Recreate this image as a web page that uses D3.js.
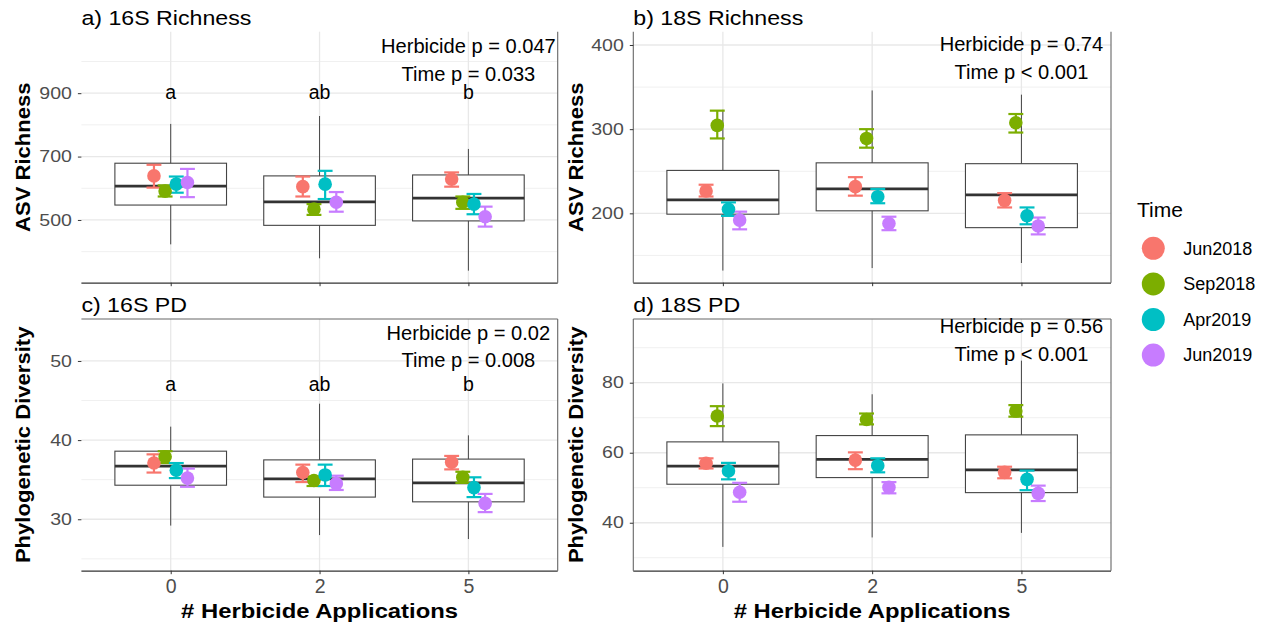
<!DOCTYPE html>
<html>
<head>
<meta charset="utf-8">
<script src="https://cdn.jsdelivr.net/npm/d3@7"></script>
<style>
  body { margin: 0; background: #fff; }
  svg { font-family: "Liberation Sans", Arial, sans-serif; }
</style>
</head>
<body>
<div id="chart"></div>
<script>
// categories
const groups = ["0", "2", "5"];
const times = ["Jun2018", "Sep2018", "Apr2019", "Jun2019"];
const timeColors = ["#F8766D", "#7CAE00", "#00BFC4", "#C77CFF"];

// boxplot stats per group: [min, q1, median, q3, max]
const rich16Box = [[423, 547, 607, 679, 803], [379, 483, 557, 639, 828], [340, 497, 569, 642, 724]];
const rich18Box = [[132, 199, 216, 251, 323], [135, 203, 229, 260, 346], [141, 183, 222, 259, 341]];
const pd16Box = [[29.2, 34.3, 36.7, 38.6, 41.7], [28.0, 32.8, 35.1, 37.5, 44.6], [27.5, 32.2, 34.6, 37.6, 40.6]];
const pd18Box = [[33.1, 51.0, 56.2, 63.1, 79.8], [35.8, 52.9, 58.1, 64.9, 76.7], [37.1, 48.6, 55.1, 65.1, 86.3]];

// means and error bars, one row per time, one value per group
const rich16Mean = [[639, 605, 629], [591, 534, 556], [613, 613, 550], [618, 556, 510]];
const rich16Lo = [[602, 574, 605], [574, 516, 535], [586, 566, 518], [572, 526, 479]];
const rich16Hi = [[674, 637, 650], [609, 550, 574], [637, 655, 582], [661, 588, 542]];

const rich18Mean = [[226.5, 231.7, 215.4], [304.5, 289, 307.7], [204.8, 219.8, 197.2], [192, 188, 185]];
const rich18Lo = [[220, 221, 207], [289, 278, 296], [197, 212, 187], [181, 180, 175]];
const rich18Hi = [[234, 243, 224], [322, 300, 318], [213, 229, 207], [202, 196, 195]];

const pd16Mean = [[37.1, 35.9, 37.2], [37.9, 34.9, 35.3], [36.2, 35.6, 34.0], [35.2, 34.5, 32.0]];
const pd16Lo = [[35.9, 34.7, 36.3], [37.1, 34.2, 34.6], [35.2, 34.2, 32.8], [34.1, 33.7, 30.9]];
const pd16Hi = [[38.2, 36.9, 38.0], [38.6, 35.4, 36.0], [37.1, 36.9, 35.3], [36.4, 35.5, 33.2]];

const pd18Mean = [[57.0, 57.9, 54.4], [70.5, 69.5, 71.9], [54.8, 56.3, 52.4], [48.7, 50.1, 48.4]];
const pd18Lo = [[55.5, 55.3, 52.7], [67.6, 68.1, 70.3], [52.4, 54.4, 49.3], [46.0, 48.4, 46.2]];
const pd18Hi = [[58.4, 60.1, 56.0], [73.3, 71.2, 73.6], [57.1, 58.4, 54.9], [51.4, 51.6, 50.6]];

// axis ticks
const rich16Ticks = [500, 700, 900], rich16Minor = [400, 600, 800, 1000];
const rich18Ticks = [200, 300, 400], rich18Minor = [150, 250, 350];
const pd16Ticks = [30, 40, 50], pd16Minor = [25, 35, 45];
const pd18Ticks = [40, 60, 80], pd18Minor = [30, 50, 70, 90];

// letters and p-value text
const letters = ["a", "ab", "b"];
const rich16P = ["Herbicide p = 0.047", "Time p = 0.033"];
const rich18P = ["Herbicide p = 0.74", "Time p < 0.001"];
const pd16P = ["Herbicide p = 0.02", "Time p = 0.008"];
const pd18P = ["Herbicide p = 0.56", "Time p < 0.001"];

const width = 1268, height = 629;
const svg = d3.select("#chart").append("svg")
    .attr("width", width)
    .attr("height", height);

function stretch(sel, k) {
    sel.each(function() {
        const w = this.getComputedTextLength();
        this.setAttribute("textLength", w * k);
        this.setAttribute("lengthAdjust", "spacingAndGlyphs");
    });
}

const cols = [[81.4, 557.7], [633.3, 1111]];
const rows = [[31.7, 282.7], [319, 570.7]];

const panels = [
    { title: "a) 16S Richness", col: 0, row: 0, box: rich16Box, mean: rich16Mean, lo: rich16Lo, hi: rich16Hi,
      domain: [302, 1094], ticks: rich16Ticks, minor: rich16Minor, ylab: "ASV Richness",
      p: rich16P, pY: [1026, 939], letterY: 882, borders: ["right"] },
    { title: "b) 18S Richness", col: 1, row: 0, box: rich18Box, mean: rich18Mean, lo: rich18Lo, hi: rich18Hi,
      domain: [117.6, 415.8], ticks: rich18Ticks, minor: rich18Minor, ylab: "ASV Richness",
      p: rich18P, pY: [393, 360], letterY: null, borders: ["left", "right"] },
    { title: "c) 16S PD", col: 0, row: 1, box: pd16Box, mean: pd16Mean, lo: pd16Lo, hi: pd16Hi,
      domain: [23.5, 55.3], ticks: pd16Ticks, minor: pd16Minor, ylab: "Phylogenetic Diversity",
      p: pd16P, pY: [52.7, 49.2], letterY: 46.2, borders: ["top", "right"] },
    { title: "d) 18S PD", col: 1, row: 1, box: pd18Box, mean: pd18Mean, lo: pd18Lo, hi: pd18Hi,
      domain: [26.3, 98.2], ticks: pd18Ticks, minor: pd18Minor, ylab: "Phylogenetic Diversity",
      p: pd18P, pY: [94.1, 86.3], letterY: null, borders: ["top", "left", "right"] }
];

panels.forEach(function(pn) {
    const [l, r] = cols[pn.col];
    const [t, b] = rows[pn.row];
    const g = svg.append("g");

    const x = d3.scalePoint().domain(groups).range([l, r]).padding(0.6);
    const y = d3.scaleLinear().domain(pn.domain).range([b, t]);
    const step = x.step();
    const dodge = step * 0.075;

    // grid
    g.selectAll(".minor").data(pn.minor).enter().append("line")
        .attr("x1", l).attr("x2", r)
        .attr("y1", d => y(d)).attr("y2", d => y(d))
        .attr("stroke", "#f0f0f0").attr("stroke-width", 1);
    g.selectAll(".major").data(pn.ticks).enter().append("line")
        .attr("x1", l).attr("x2", r)
        .attr("y1", d => y(d)).attr("y2", d => y(d))
        .attr("stroke", "#e8e8e8").attr("stroke-width", 1.3);
    g.selectAll(".vgrid").data(groups).enter().append("line")
        .attr("x1", d => x(d)).attr("x2", d => x(d))
        .attr("y1", t).attr("y2", b)
        .attr("stroke", "#e8e8e8").attr("stroke-width", 1.3);

    // boxplots
    const bw = step * 0.75;
    const bx = g.selectAll(".box").data(pn.box).enter().append("g");
    bx.append("line")
        .attr("x1", (d, i) => x(groups[i])).attr("x2", (d, i) => x(groups[i]))
        .attr("y1", d => y(d[0])).attr("y2", d => y(d[4]))
        .attr("stroke", "#333").attr("stroke-width", 0.9);
    bx.append("rect")
        .attr("x", (d, i) => x(groups[i]) - bw / 2)
        .attr("width", bw)
        .attr("y", d => y(d[3]))
        .attr("height", d => y(d[1]) - y(d[3]))
        .attr("fill", "#fff").attr("stroke", "#444").attr("stroke-width", 1.1);
    bx.append("line")
        .attr("x1", (d, i) => x(groups[i]) - bw / 2).attr("x2", (d, i) => x(groups[i]) + bw / 2)
        .attr("y1", d => y(d[2])).attr("y2", d => y(d[2]))
        .attr("stroke", "#333").attr("stroke-width", 2.8);

    // error bars and points
    const pts = [];
    times.forEach((tm, k) => groups.forEach((gr, i) => {
        pts.push({ k: k, x: x(gr) + (k - 1.5) * dodge, m: pn.mean[k][i], lo: pn.lo[k][i], hi: pn.hi[k][i] });
    }));
    const cap = step * 0.05;
    const eb = g.selectAll(".eb").data(pts).enter().append("g")
        .attr("stroke", d => timeColors[d.k]).attr("stroke-width", 2.2);
    eb.append("line").attr("x1", d => d.x).attr("x2", d => d.x)
        .attr("y1", d => y(d.lo)).attr("y2", d => y(d.hi));
    eb.append("line").attr("x1", d => d.x - cap).attr("x2", d => d.x + cap)
        .attr("y1", d => y(d.lo)).attr("y2", d => y(d.lo));
    eb.append("line").attr("x1", d => d.x - cap).attr("x2", d => d.x + cap)
        .attr("y1", d => y(d.hi)).attr("y2", d => y(d.hi));
    g.selectAll(".pt").data(pts).enter().append("circle")
        .attr("cx", d => d.x).attr("cy", d => y(d.m)).attr("r", 6.8)
        .attr("fill", d => timeColors[d.k]);

    // borders
    const bcol = "#666";
    if (pn.borders.includes("top")) g.append("line").attr("x1", l).attr("x2", r).attr("y1", t).attr("y2", t).attr("stroke", bcol).attr("stroke-width", 1.1);
    if (pn.borders.includes("left")) g.append("line").attr("x1", l).attr("x2", l).attr("y1", t).attr("y2", b).attr("stroke", bcol).attr("stroke-width", 1.1);
    if (pn.borders.includes("right")) g.append("line").attr("x1", r).attr("x2", r).attr("y1", t).attr("y2", b).attr("stroke", bcol).attr("stroke-width", 1.1);

    // axes
    const yAxis = g.append("g").attr("transform", `translate(${l},0)`)
        .call(d3.axisLeft(y).tickValues(pn.ticks).tickSize(3.5).tickPadding(6));
    yAxis.select(".domain").remove();
    yAxis.selectAll(".tick line").attr("stroke", "#333");
    yAxis.selectAll(".tick text")
        .attr("fill", "#4d4d4d").attr("font-size", "16.3px")
        .attr("font-family", "Liberation Sans, Arial, sans-serif")
        .call(stretch, 1.2);

    const xAxis = g.append("g").attr("transform", `translate(0,${b})`)
        .call(d3.axisBottom(x).tickSize(3.5).tickPadding(5).tickSizeOuter(0));
    xAxis.select(".domain").attr("stroke", "#333").attr("stroke-width", 1.3)
        .attr("d", `M${l},0.5H${r}`);
    xAxis.selectAll(".tick line").attr("stroke", "#333");
    if (pn.row === 1) {
        xAxis.selectAll(".tick text")
            .attr("fill", "#4d4d4d").attr("font-size", "19.5px")
            .attr("font-family", "Liberation Sans, Arial, sans-serif");
        g.append("text")
            .attr("x", (l + r) / 2).attr("y", 618)
            .attr("text-anchor", "middle")
            .attr("font-size", "20px").attr("font-weight", "bold")
            .text("# Herbicide Applications")
            .call(stretch, 1.19);
    } else {
        xAxis.selectAll(".tick text").remove();
    }

    // y title
    const yx = pn.col === 0 ? 29.5 : 582.5;
    g.append("text")
        .attr("transform", `translate(${yx},${(t + b) / 2}) rotate(-90)`)
        .attr("text-anchor", "middle")
        .attr("font-size", "21px").attr("font-weight", "bold")
        .text(pn.ylab)
        .call(stretch, 1.05);

    // panel title
    g.append("text")
        .attr("x", l).attr("y", t - 7)
        .attr("font-size", "20.5px").attr("fill", "#000")
        .text(pn.title)
        .call(stretch, 1.13);

    // p-values
    g.selectAll(".pv").data(pn.p).enter().append("text")
        .attr("x", x("5"))
        .attr("y", (d, i) => y(pn.pY[i]))
        .attr("text-anchor", "middle")
        .attr("font-size", "19.5px")
        .text(d => d)
        .call(stretch, 1.03);

    // letters
    if (pn.letterY !== null) {
        g.selectAll(".lt").data(letters).enter().append("text")
            .attr("x", (d, i) => x(groups[i]))
            .attr("y", y(pn.letterY))
            .attr("text-anchor", "middle")
            .attr("font-size", "19.5px")
            .text(d => d);
    }
});

// legend
const leg = svg.append("g");
leg.append("text")
    .attr("x", 1137).attr("y", 216.7)
    .attr("font-size", "21px")
    .text("Time");
const li = leg.selectAll(".li").data(times).enter().append("g")
    .attr("transform", (d, i) => `translate(1153.3,${248.3 + i * 35.6})`);
li.append("circle").attr("r", 11.5).attr("fill", (d, i) => timeColors[i]);
li.append("text")
    .attr("x", 30).attr("dy", "0.35em")
    .attr("font-size", "18px")
    .text(d => d);
</script>
</body>
</html>
